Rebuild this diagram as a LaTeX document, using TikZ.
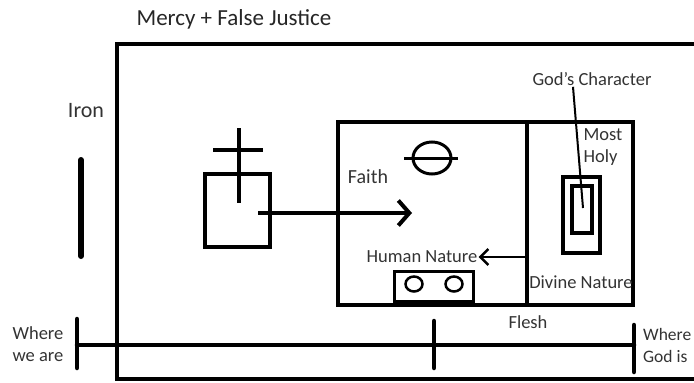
\documentclass[tikz,border=0pt]{standalone}
\usepackage{fontspec}
\setmainfont{Carlito}
\usetikzlibrary{arrows.meta}
\tikzstyle{box} = [rectangle, 
draw=black, 
line width=4pt, 
inner sep=0pt]
\tikzstyle{thinbox} = [rectangle, 
draw=black, 
line width=3pt, 
inner sep=0pt]
\tikzstyle{word} = [font=\fontsize{18.5}{22}\selectfont, 
text=black!80, 
inner sep=1pt]
\tikzstyle{bar} = [line width=4.5pt, line cap=round]
\tikzstyle{arrow} = [line width=4pt, -{Straight Barb[length=11pt,width=25pt]}]
\tikzstyle{smallarrow} = [line width=2.5pt, -{Straight Barb[length=8pt,width=16pt]}]

\begin{document}
\begin{tikzpicture}[x=1pt, y=-1pt]
  \useasboundingbox (0,0) rectangle (694,383);
  \clip (0,0) rectangle (694,383);

  \node at (234,19) (title) [word, font=\fontsize{23}{27}\selectfont, text=black!85] {Mercy + False Justice};
  \node at (418.5,211.5) (court) [box, minimum width=603pt, minimum height=335pt] {};

  % iron
  \node at (86,111) (iron) [word, font=\fontsize{22}{26}\selectfont] {Iron};
  \draw [bar, line width=6pt] (81,160) -- (81,256);

  % altar and cross
  \node at (237.5,210.5) (altar) [box, minimum width=65pt, minimum height=73pt] {};
  \draw [line width=4pt] (239,128) -- (239,203);
  \draw [line width=4pt] (213,150) -- (263,150);
  \coordinate (lamb) at (258,213);
  \coordinate (faithend) at (412,213);
  \draw [arrow] (lamb) -- (faithend);

  % sanctuary
  \node at (432.5,213.5) (holy) [box, minimum width=189pt, minimum height=183pt] {};
  \node at (580,213.5) (mostholy) [box, minimum width=106pt, minimum height=183pt] {};
  \node at (368,177) (faith) [word, font=\fontsize{20}{24}\selectfont] {Faith};
  \draw [line width=3pt] (432,158) ellipse [x radius=19, y radius=16];
  \draw [line width=3pt] (404,158) -- (458,158);
  \node at (422,257) (human) [word] {Human Nature};
  \draw [smallarrow] (mostholy.west |- human) -- (human.east);
  \node at (433.5,286) (table) [thinbox, minimum width=79pt, minimum height=30pt] {};
  \draw [line width=2.5pt] (414,284) ellipse [x radius=8.5, y radius=7.5];
  \draw [line width=2.5pt] (454,284) ellipse [x radius=8.5, y radius=7.5];
  \node at (581,282) (divine) [word] {Divine Nature};

  % ark
  \node at (603,147) (most) [word, align=left] {Most\\Holy};
  \node at (581.5,215) (ark) [thinbox, line width=3.5pt, minimum width=37pt, minimum height=76pt] {};
  \node at (582,209.5) (law) [thinbox, line width=3.5pt, minimum width=20pt, minimum height=47pt] {};
  \node at (592,79) (character) [word] {God's Character};
  \coordinate (glory) at (583,208);
  \draw [line width=2pt] ([xshift=-19pt]character.south) -- (glory);

  % path
  \node at (38,344) (here) [word, align=left] {Where\\we are};
  \node at (528,322) (flesh) [word] {Flesh};
  \node at (642,345) (there) [word, font=\fontsize{17.5}{22}\selectfont, align=left, anchor=west] {Where\\God is};
  \coordinate (start) at (77,345);
  \coordinate (middle) at (434,345);
  \coordinate (goal) at (634,345);
  \draw [bar] (start) -- (goal);
  \draw [bar] ([yshift=-23pt]start) -- ([yshift=26pt]start);
  \draw [bar] ([yshift=-23pt]middle) -- ([yshift=24pt]middle);
  \draw [bar] ([yshift=-27pt]goal) -- ([yshift=20pt]goal);
\end{tikzpicture}
\end{document}
